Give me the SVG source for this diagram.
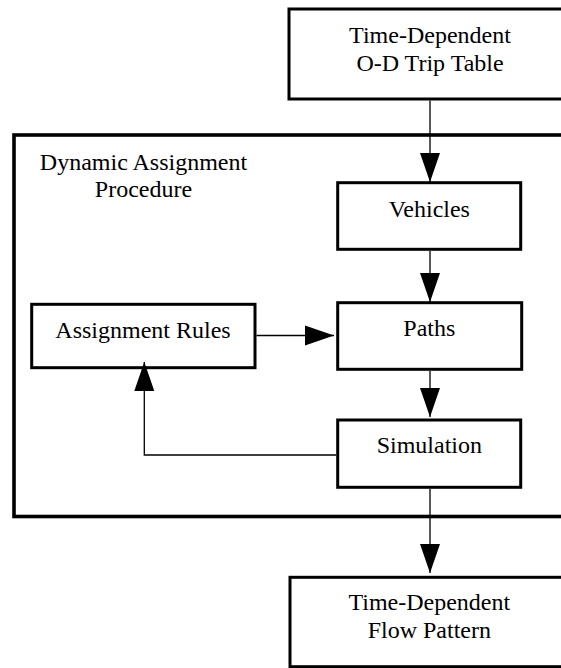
<svg xmlns="http://www.w3.org/2000/svg" width="561" height="668" viewBox="0 0 561 668">
<defs>
<style>
.box{fill:#fff;stroke:#000;stroke-width:3}
.outer{fill:none;stroke:#000;stroke-width:3.6}
.lbl{font-family:"Liberation Serif","Times New Roman",serif;font-size:24px;fill:#000;text-anchor:middle}
.con{fill:none;stroke:#000;stroke-width:1.3}
</style>
<marker id="ah" markerUnits="userSpaceOnUse" markerWidth="30" markerHeight="22" refX="29" refY="10" orient="auto" viewBox="0 0 30 20">
<path d="M0,0 L29,10 L0,20 z" fill="#000"/>
</marker>
</defs>
<rect width="561" height="668" fill="#fff"/>
<g id="procedure">
<rect class="outer" x="14" y="135" width="560" height="381.5"/>
<text class="lbl" x="143.5" y="169.5">Dynamic Assignment</text>
<text class="lbl" x="143.5" y="197">Procedure</text>
</g>
<g id="trip-table">
<rect class="box" x="289" y="9" width="290" height="90"/>
<text class="lbl" x="430" y="43.3">Time-Dependent</text>
<text class="lbl" x="430" y="70.7">O-D Trip Table</text>
</g>
<g id="vehicles">
<rect class="box" x="337.7" y="182.7" width="183" height="66.6"/>
<text class="lbl" x="429.3" y="216.7">Vehicles</text>
</g>
<g id="assignment-rules">
<rect class="box" x="31.7" y="304.3" width="223.3" height="63.4"/>
<text class="lbl" x="143" y="338">Assignment Rules</text>
</g>
<g id="paths">
<rect class="box" x="337.7" y="302.7" width="184" height="66.6"/>
<text class="lbl" x="429.3" y="336">Paths</text>
</g>
<g id="simulation">
<rect class="box" x="337.7" y="420" width="183" height="67.3"/>
<text class="lbl" x="429.3" y="453.3">Simulation</text>
</g>
<g id="flow-pattern">
<rect class="box" x="290" y="577.3" width="290" height="89.4"/>
<text class="lbl" x="429.3" y="610">Time-Dependent</text>
<text class="lbl" x="429.3" y="638.3">Flow Pattern</text>
</g>
<g id="connectors">
<line class="con" x1="430" y1="100.5" x2="430" y2="182" marker-end="url(#ah)"/>
<line class="con" x1="430" y1="251" x2="430" y2="302" marker-end="url(#ah)"/>
<line class="con" x1="430" y1="371" x2="430" y2="417" marker-end="url(#ah)"/>
<line class="con" x1="430" y1="489" x2="430" y2="573" marker-end="url(#ah)"/>
<line class="con" x1="256.5" y1="335.5" x2="334" y2="335.5" marker-end="url(#ah)"/>
<polyline class="con" points="336,455 144.3,455 144.3,362" marker-end="url(#ah)"/>
</g>
</svg>
